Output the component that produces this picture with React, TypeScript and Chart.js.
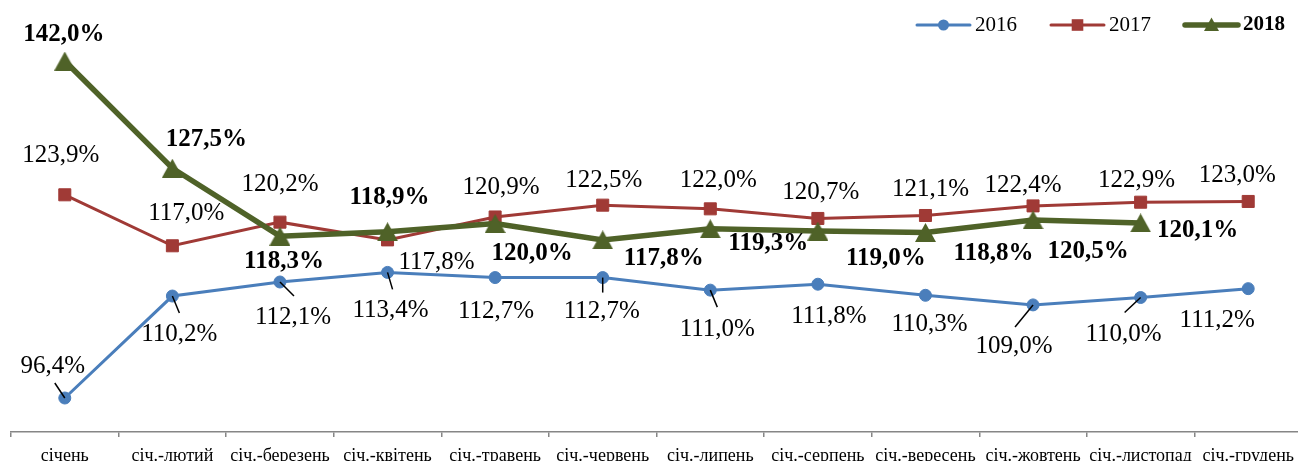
import React, { useEffect, useRef } from "react";
import { Chart, registerables } from "chart.js";
Chart.register(...registerables);

const categories = [
  "січень",
  "січ.-лютий",
  "січ.-березень",
  "січ.-квітень",
  "січ.-травень",
  "січ.-червень",
  "січ.-липень",
  "січ.-серпень",
  "січ.-вересень",
  "січ.-жовтень",
  "січ.-листопад",
  "січ.-грудень",
];
const seriesNames = ["2016", "2017", "2018"];
const values2016 = [96.4, 110.2, 112.1, 113.4, 112.7, 112.7, 111.0, 111.8, 110.3, 109.0, 110.0, 111.2];
const values2017 = [123.9, 117.0, 120.2, 117.8, 120.9, 122.5, 122.0, 120.7, 121.1, 122.4, 122.9, 123.0];
const values2018: (number | null)[] = [142.0, 127.5, 118.3, 118.9, 120.0, 117.8, 119.3, 119.0, 118.8, 120.5, 120.1, null];

// label placement (styling, relative to each point)
const offsets2016 = [[-12, -32], [7, 38], [13, 35], [3, 38], [1, 34], [-1, 34], [7, 39], [11, 32], [4, 29], [-19, 42], [-17, 37], [-31, 32]];
const leaders2016: (number[] | null)[] = [[-10, -15], [7, 17], [14, 14], [5, 17], null, [0, 15], [7, 17], null, null, [-18, 22], [-16, 15], null];
const offsets2017 = [[-4, -39], [14, -32], [0, -38], [49, 23], [6, -30], [1, -25], [8, -28], [3, -26], [5, -26], [-10, -20], [-4, -22], [-11, -26]];
const offsets2018 = [[-1, -27], [34, -29], [4, 25], [2, -34], [37, 30], [61, 19], [58, 15], [68, 28], [68, 21], [55, 32], [57, 8], [0, 0]];

const colors = ["#4A7EBB", "#A03A36", "#4F6228"];
const serif = "'Liberation Serif', 'Times New Roman', serif";

const fmt = (v: number) => v.toFixed(1).replace(".", ",") + "%";

function drawMarker(ctx: CanvasRenderingContext2D, kind: string, x: number, y: number, r: number, color: string) {
  ctx.fillStyle = color;
  ctx.beginPath();
  if (kind === "circle") {
    ctx.arc(x, y, r, 0, Math.PI * 2);
  } else if (kind === "rect") {
    ctx.rect(x - r, y - r, 2 * r, 2 * r);
  } else {
    ctx.moveTo(x, y - r);
    ctx.lineTo(x + r, y + r * 0.8);
    ctx.lineTo(x - r, y + r * 0.8);
    ctx.closePath();
  }
  ctx.fill();
}

function makeTriangle(color: string, w: number, h: number) {
  const c = document.createElement("canvas");
  c.width = w;
  c.height = h;
  const g = c.getContext("2d")!;
  g.fillStyle = color;
  g.beginPath();
  g.moveTo(w / 2, 0);
  g.lineTo(w, h);
  g.lineTo(0, h);
  g.closePath();
  g.fill();
  return c;
}

export default function App() {
  const ref = useRef<HTMLCanvasElement>(null);
  useEffect(() => {
    if (!ref.current) return;
    const tri = makeTriangle(colors[2], 21, 19);

    const labelPlugin = {
      id: "customLabels",
      afterDatasetsDraw(chart: any) {
        const ctx: CanvasRenderingContext2D = chart.ctx;
        ctx.save();
        const m0 = chart.getDatasetMeta(0);
        ctx.strokeStyle = "#000";
        ctx.lineWidth = 1.5;
        leaders2016.forEach((l, i) => {
          if (!l) return;
          const p = m0.data[i];
          ctx.beginPath();
          ctx.moveTo(p.x, p.y);
          ctx.lineTo(p.x + l[0], p.y + l[1]);
          ctx.stroke();
        });
        const cfgs = [
          { vals: values2016 as (number | null)[], offs: offsets2016, bold: false },
          { vals: values2017 as (number | null)[], offs: offsets2017, bold: false },
          { vals: values2018, offs: offsets2018, bold: true },
        ];
        ctx.fillStyle = "#000";
        ctx.textAlign = "center";
        ctx.textBaseline = "middle";
        cfgs.forEach((c, di) => {
          const meta = chart.getDatasetMeta(di);
          ctx.font = `${c.bold ? "bold " : ""}25px ${serif}`;
          c.vals.forEach((v, i) => {
            if (v === null || v === undefined) return;
            const p = meta.data[i];
            ctx.fillText(fmt(v), p.x + c.offs[i][0], p.y + c.offs[i][1]);
          });
        });
        ctx.restore();
      },
      afterDraw(chart: any) {
        const ctx: CanvasRenderingContext2D = chart.ctx;
        ctx.save();
        const kinds = ["circle", "rect", "triangle"];
        const widths = [3, 3, 5.5];
        const sizes = [5.5, 5.8, 7.5];
        let right = 1285;
        const cy = 25;
        for (let i = seriesNames.length - 1; i >= 0; i--) {
          ctx.font = `${i === 2 ? "bold " : ""}21px ${serif}`;
          const tw = ctx.measureText(seriesNames[i]).width;
          const tx = right - tw;
          const lineEnd = tx - 5;
          const lineStart = lineEnd - 53;
          ctx.strokeStyle = colors[i];
          ctx.lineWidth = widths[i];
          ctx.lineCap = "round";
          ctx.beginPath();
          ctx.moveTo(lineStart, cy);
          ctx.lineTo(lineEnd, cy);
          ctx.stroke();
          drawMarker(ctx, kinds[i], (lineStart + lineEnd) / 2, cy, sizes[i], colors[i]);
          ctx.fillStyle = "#000";
          ctx.textAlign = "left";
          ctx.textBaseline = "middle";
          ctx.fillText(seriesNames[i], tx, cy);
          right = lineStart - 34;
        }
        ctx.restore();
      },
    };

    const chart = new Chart(ref.current, {
      type: "line",
      data: {
        labels: categories,
        datasets: [
          {
            label: seriesNames[0],
            data: values2016,
            borderColor: colors[0],
            backgroundColor: colors[0],
            borderWidth: 3,
            pointStyle: "circle",
            pointRadius: 6,
            pointBorderWidth: 1,
            pointBackgroundColor: colors[0],
            pointBorderColor: colors[0],
            order: 2,
          },
          {
            label: seriesNames[1],
            data: values2017,
            borderColor: colors[1],
            backgroundColor: colors[1],
            borderWidth: 3,
            pointStyle: "rect",
            pointRadius: 8.5,
            pointBorderWidth: 1,
            pointBackgroundColor: colors[1],
            pointBorderColor: colors[1],
            order: 1,
          },
          {
            label: seriesNames[2],
            data: values2018,
            borderColor: colors[2],
            backgroundColor: colors[2],
            borderWidth: 5.5,
            pointStyle: tri,
            pointRadius: 11,
            pointBorderWidth: 0,
            pointBackgroundColor: colors[2],
            pointBorderColor: colors[2],
            order: 0,
          },
        ],
      },
      options: {
        animation: false,
        responsive: false,
        maintainAspectRatio: false,
        layout: { padding: { left: 7, right: 0, top: 40, bottom: 0 } },
        plugins: { legend: { display: false }, tooltip: { enabled: false } },
        scales: {
          x: {
            offset: true,
            grid: {
              offset: true,
              drawOnChartArea: false,
              drawTicks: true,
              tickLength: 5,
              color: "#868686",
              lineWidth: 1.5,
            },
            border: { display: true, color: "#868686", width: 1.5 },
            ticks: {
              color: "#000",
              font: { family: serif, size: 18 },
              padding: 8,
              maxRotation: 0,
              autoSkip: false,
            },
            afterFit: (s: any) => {
              s.height = 29;
            },
          },
          y: { display: false, min: 91.8, max: 144.85 },
        },
      },
      plugins: [labelPlugin],
    } as any);
    return () => chart.destroy();
  }, []);

  return (
    <div style={{ position: "absolute", left: 0, top: 0, width: 1298, height: 461, overflow: "hidden", background: "#fff" }}>
      <canvas ref={ref} width={1313} height={461} style={{ display: "block", width: 1313, height: 461 }} />
    </div>
  );
}
